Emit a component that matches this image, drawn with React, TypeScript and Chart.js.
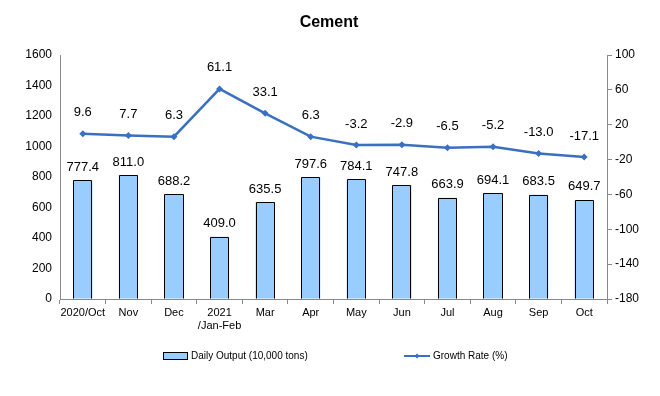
import React, { useEffect, useRef } from "react";
import { Chart, registerables } from "chart.js";

Chart.register(...registerables);

const categories: (string | string[])[] = [
  "2020/Oct", "Nov", "Dec", ["2021", "/Jan-Feb"], "Mar", "Apr", "May", "Jun", "Jul", "Aug", "Sep", "Oct",
];
const dailyOutput = [777.4, 811.0, 688.2, 409.0, 635.5, 797.6, 784.1, 747.8, 663.9, 694.1, 683.5, 649.7];
const growthRate = [9.6, 7.7, 6.3, 61.1, 33.1, 6.3, -3.2, -2.9, -6.5, -5.2, -13.0, -17.1];
const leftTicks = [0, 200, 400, 600, 800, 1000, 1200, 1400, 1600];
const rightTicks = [-180, -140, -100, -60, -20, 20, 60, 100];
const titleText = "Cement";
const barLabel = "Daily Output (10,000 tons)";
const lineLabel = "Growth Rate (%)";

const BAR_FILL = "#99CCFF";
const LINE_COLOR = "#3A70C0";
const FONT = "'Liberation Sans', Arial, sans-serif";
const NARROW = "'Liberation Sans Narrow', 'Liberation Sans', Arial, sans-serif";

const overlayPlugin = {
  id: "overlay",
  afterDatasetsDraw(chart: any) {
    const ctx = chart.ctx;
    ctx.save();
    // crisp bar borders
    const barMeta = chart.getDatasetMeta(0);
    ctx.strokeStyle = "#000";
    ctx.lineWidth = 1;
    barMeta.data.forEach((el: any) => {
      const l = Math.round(el.x - el.width / 2) + 0.5;
      const r = Math.round(el.x + el.width / 2) - 0.5;
      const t = Math.round(el.y) + 0.5;
      const b = Math.round(el.base) - 0.5;
      ctx.beginPath();
      ctx.moveTo(l, b);
      ctx.lineTo(l, t);
      ctx.lineTo(r, t);
      ctx.lineTo(r, b);
      ctx.stroke();
    });

    // title
    ctx.fillStyle = "#000";
    ctx.font = `bold 16px ${FONT}`;
    ctx.textAlign = "center";
    ctx.textBaseline = "middle";
    ctx.fillText(titleText, 329, 23);

    // bar labels
    ctx.font = `13px ${FONT}`;
    barMeta.data.forEach((el: any, i: number) => {
      ctx.fillText(dailyOutput[i].toFixed(1), el.x, el.y - 13);
    });
    const lineMeta = chart.getDatasetMeta(1);
    lineMeta.data.forEach((el: any, i: number) => {
      ctx.fillText(growthRate[i].toFixed(1), el.x, el.y - 21);
    });

    // legend
    const ly = 356;
    ctx.fillStyle = BAR_FILL;
    ctx.fillRect(163.5, ly - 3.5, 24, 7);
    ctx.strokeStyle = "#000";
    ctx.lineWidth = 1;
    ctx.strokeRect(163.5, ly - 3.5, 24, 7);
    ctx.fillStyle = "#000";
    ctx.font = `10px ${NARROW}`;
    ctx.textAlign = "left";
    ctx.fillText(barLabel, 191, ly);

    ctx.strokeStyle = LINE_COLOR;
    ctx.lineWidth = 2;
    ctx.beginPath();
    ctx.moveTo(404, ly);
    ctx.lineTo(430, ly);
    ctx.stroke();
    ctx.fillStyle = LINE_COLOR;
    ctx.beginPath();
    ctx.moveTo(417, ly - 2.5);
    ctx.lineTo(419.5, ly);
    ctx.lineTo(417, ly + 2.5);
    ctx.lineTo(414.5, ly);
    ctx.closePath();
    ctx.fill();
    ctx.fillStyle = "#000";
    ctx.fillText(lineLabel, 433, ly);
    ctx.restore();
  },
};

export default function App() {
  const ref = useRef<HTMLCanvasElement | null>(null);
  useEffect(() => {
    if (!ref.current) return;
    const chart = new Chart(ref.current, {
      type: "bar",
      data: {
        labels: categories,
        datasets: [
          {
            type: "bar",
            label: barLabel,
            data: dailyOutput,
            backgroundColor: BAR_FILL,
            borderWidth: 0,
            barPercentage: 0.42,
            categoryPercentage: 1,
            yAxisID: "y",
            order: 2,
          },
          {
            type: "line",
            label: lineLabel,
            data: growthRate,
            borderColor: LINE_COLOR,
            backgroundColor: LINE_COLOR,
            borderWidth: 2.5,
            pointStyle: "rectRot",
            pointRadius: 3.5,
            pointBorderWidth: 0,
            tension: 0,
            yAxisID: "y1",
            order: 1,
          },
        ],
      },
      options: {
        animation: false,
        responsive: false,
        layout: { padding: { top: 55, bottom: 57, left: 0, right: 0 } },
        plugins: {
          legend: { display: false },
          title: { display: false },
          tooltip: { enabled: false },
        },
        scales: {
          x: {
            offset: true,
            grid: {
              offset: true,
              drawOnChartArea: false,
              drawTicks: true,
              tickLength: 5,
              color: "#888",
            },
            border: { color: "#888", width: 1 },
            ticks: {
              color: "#000",
              font: { family: NARROW, size: 11 },
              maxRotation: 0,
              autoSkip: false,
              padding: 2,
            },
            afterFit(scale: any) {
              scale.height = 40;
            },
          },
          y: {
            position: "left",
            min: 0,
            max: 1600,
            afterBuildTicks(scale: any) {
              scale.ticks = leftTicks.map((v) => ({ value: v }));
            },
            grid: { drawOnChartArea: false, drawTicks: false },
            border: { color: "#888", width: 1 },
            ticks: {
              color: "#000",
              font: { family: FONT, size: 12 },
              padding: 8,
              callback: (v: any) => String(v),
            },
            afterFit(scale: any) {
              scale.width = 60;
            },
          },
          y1: {
            position: "right",
            min: -180,
            max: 100,
            afterBuildTicks(scale: any) {
              scale.ticks = rightTicks.map((v) => ({ value: v }));
            },
            grid: { drawOnChartArea: false, drawTicks: true, tickLength: 5, color: "#888" },
            border: { color: "#888", width: 1 },
            ticks: {
              color: "#000",
              font: { family: FONT, size: 12 },
              padding: 3,
              callback: (v: any) => String(v),
            },
            afterFit(scale: any) {
              scale.width = 53;
            },
          },
        },
      },
      plugins: [overlayPlugin],
    } as any);
    return () => chart.destroy();
  }, []);
  return (
    <div style={{ position: "fixed", left: 0, top: 0, width: 660, height: 396, background: "#fff" }}>
      <canvas ref={ref} width={660} height={396} style={{ width: 660, height: 396 }} />
    </div>
  );
}
